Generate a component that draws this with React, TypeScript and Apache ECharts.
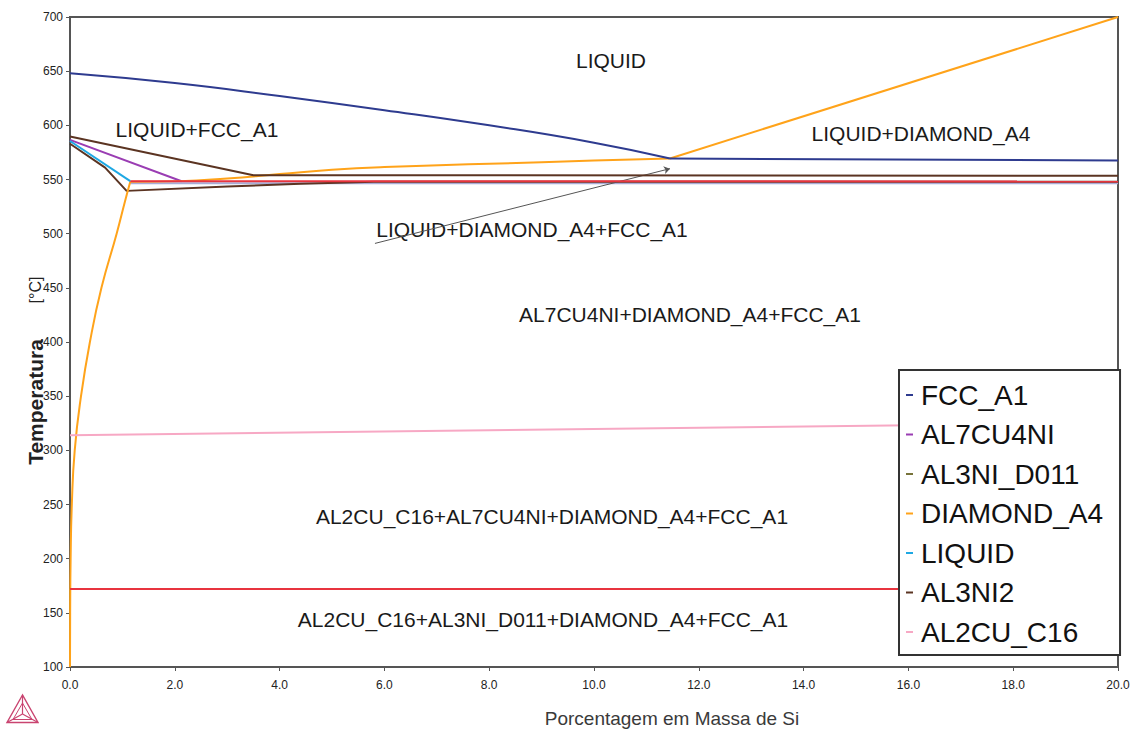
import React, { useEffect, useRef } from "react";
import * as echarts from "echarts";

// Phase boundary lines, [wt% Si, temperature °C]
const fccA1Liquidus = [[0, 648], [2, 639], [4, 627], [6, 614], [8, 600], [10, 584], [11.45, 569.4]];
const fccA1Plateau = [[11.45, 569.4], [20, 567.5]];
const fccA1Lower = [[1.15, 546.6], [20, 546.6]];
const al7cu4ni = [[0, 586.6], [2.13, 548.4]];
const al3niD011 = [[0, 100], [0, 172]];
const diamondA4Solvus = [
  [0, 100], [0.003, 150], [0.012, 200], [0.035, 250], [0.09, 300], [0.21, 350], [0.38, 400],
  [0.6, 450], [0.89, 500], [1.05, 530], [1.15, 548],
];
const diamondA4Mid = [[1.15, 548], [2.1, 548.5], [3, 551], [4, 555], [5, 559], [6, 561.5], [8, 564.5], [10, 567.5], [11.45, 569.4]];
const diamondA4Liquidus = [[11.45, 569.4], [20, 700]];
const liquid = [[0, 585.5], [1.15, 548.5]];
const al3ni2Upper = [[0, 589.7], [3.5, 554], [20, 553.4]];
const al3ni2Lower = [[0, 583], [0.67, 561], [1.08, 539.5], [3, 543.5], [4.4, 546], [5.8, 548], [20, 548]];
const al2cuC16 = [[0, 314], [20, 325.5]];
const eutecticHigh = [[1.15, 548.5], [20, 548.2]];
const eutecticLow = [[0, 172], [20, 172]];
const arrowFrom = [5.82, 491];
const arrowTo = [11.45, 560];

const legendNames = ["FCC_A1", "AL7CU4NI", "AL3NI_D011", "DIAMOND_A4", "LIQUID", "AL3NI2", "AL2CU_C16"];

const regionLabels = [
  { text: "LIQUID", x: 611, y: 60 },
  { text: "LIQUID+FCC_A1", x: 197, y: 129 },
  { text: "LIQUID+DIAMOND_A4", x: 921, y: 133 },
  { text: "LIQUID+DIAMOND_A4+FCC_A1", x: 532, y: 229 },
  { text: "AL7CU4NI+DIAMOND_A4+FCC_A1", x: 690, y: 314 },
  { text: "AL2CU_C16+AL7CU4NI+DIAMOND_A4+FCC_A1", x: 552, y: 516 },
  { text: "AL2CU_C16+AL3NI_D011+DIAMOND_A4+FCC_A1", x: 543, y: 619 },
];

const FONT = "'Liberation Sans', Arial, sans-serif";

function lineSeries(name: string, data: number[][], color: string, z = 2, width = 2, smooth = false) {
  return {
    type: "line",
    name,
    data,
    showSymbol: false,
    symbol: "none",
    silent: true,
    smooth,
    z,
    lineStyle: { color, width },
    itemStyle: { color },
  };
}

export default function App() {
  const ref = useRef<HTMLDivElement>(null);

  useEffect(() => {
    document.body.style.margin = "0";
    const chart = echarts.init(ref.current!, null, { renderer: "svg" });
    const logoColor = "#c94470";
    const orange = "#ffa31a";
    const navy = "#2e3b8f";
    const brown = "#5b3422";
    const red = "#e8343f";
    chart.setOption({
      animation: false,
      backgroundColor: "#ffffff",
      grid: {
        left: 70,
        right: 19,
        top: 17,
        bottom: 62,
        show: true,
        borderColor: "#555",
        borderWidth: 2,
        backgroundColor: "transparent",
      },
      legend: {
        data: legendNames,
        orient: "vertical",
        left: 899,
        top: 370,
        z: 20,
        backgroundColor: "#ffffff",
        borderColor: "#333",
        borderWidth: 2,
        padding: [10, 17, 8, 7],
        itemGap: 9.5,
        itemWidth: 7,
        itemHeight: 2,
        icon: "rect",
        selectedMode: false,
        textStyle: { fontFamily: FONT, fontSize: 28, color: "#111", lineHeight: 30, padding: [0, 0, 0, 3] },
      },
      xAxis: {
        type: "value",
        min: 0,
        max: 20,
        interval: 2,
        axisLine: { lineStyle: { color: "#555", width: 2 } },
        axisTick: { show: true, length: 4, lineStyle: { color: "#555" } },
        axisLabel: {
          fontFamily: FONT,
          fontSize: 12,
          color: "#222",
          margin: 12,
          formatter: (v: number) => v.toFixed(1),
        },
        splitLine: { show: false },
      },
      yAxis: {
        type: "value",
        min: 100,
        max: 700,
        interval: 50,
        axisLine: { show: true, lineStyle: { color: "#555", width: 2 } },
        axisTick: { show: true, length: 4, lineStyle: { color: "#555" } },
        axisLabel: { fontFamily: FONT, fontSize: 12, color: "#222", margin: 7 },
        splitLine: { show: false },
      },
      graphic: [
        ...regionLabels.map((l) => ({
          type: "text",
          x: l.x,
          y: l.y,
          silent: true,
          style: {
            text: l.text,
            fontFamily: FONT,
            fontSize: 21,
            fill: "#1a1a1a",
            textAlign: "center",
            textVerticalAlign: "middle",
          },
        })),
        {
          type: "text",
          x: 672,
          y: 718,
          style: {
            text: "Porcentagem em Massa de Si",
            fontFamily: FONT,
            fontSize: 19,
            fill: "#3a3a3a",
            textAlign: "center",
            textVerticalAlign: "middle",
          },
        },
        {
          type: "text",
          x: 35,
          y: 402,
          rotation: Math.PI / 2,
          style: {
            text: "Temperatura",
            fontFamily: FONT,
            fontSize: 21,
            fontWeight: "bold",
            fill: "#222",
            textAlign: "center",
            textVerticalAlign: "middle",
          },
        },
        {
          type: "text",
          x: 35,
          y: 290,
          rotation: Math.PI / 2,
          style: {
            text: "[°C]",
            fontFamily: FONT,
            fontSize: 16,
            fill: "#222",
            textAlign: "center",
            textVerticalAlign: "middle",
          },
        },
        {
          type: "group",
          silent: true,
          children: [
            { type: "polygon", shape: { points: [[22.5, 695], [7, 722.5], [38, 722.5]] }, style: { fill: "none", stroke: logoColor, lineWidth: 1.4 } },
            { type: "polygon", shape: { points: [[22.5, 703], [13, 719.5], [32, 719.5]] }, style: { fill: "none", stroke: logoColor, lineWidth: 1 } },
            { type: "line", shape: { x1: 22.5, y1: 695, x2: 22.5, y2: 714 }, style: { stroke: logoColor, lineWidth: 1.2 } },
            { type: "line", shape: { x1: 7, y1: 722.5, x2: 22.5, y2: 714 }, style: { stroke: logoColor, lineWidth: 1.2 } },
            { type: "line", shape: { x1: 38, y1: 722.5, x2: 22.5, y2: 714 }, style: { stroke: logoColor, lineWidth: 1.2 } },
          ],
        },
      ],
      series: [
        lineSeries("fcc-lower", fccA1Lower, "#a7add8", 1, 2),
        lineSeries("AL3NI2", al3ni2Lower, brown, 2),
        lineSeries("AL7CU4NI", al7cu4ni, "#9a3db3", 3),
        lineSeries("AL3NI_D011", al3niD011, "#77733a", 3),
        lineSeries("DIAMOND_A4", diamondA4Solvus, orange, 4, 2, true),
        lineSeries("DIAMOND_A4", diamondA4Mid, orange, 4, 2, true),
        lineSeries("DIAMOND_A4", diamondA4Liquidus, orange, 4),
        lineSeries("eutectic-high", eutecticHigh, red, 5),
        lineSeries("AL3NI2", al3ni2Upper, brown, 5),
        lineSeries("FCC_A1", fccA1Liquidus, navy, 6, 2, true),
        lineSeries("FCC_A1", fccA1Plateau, navy, 6),
        lineSeries("LIQUID", liquid, "#1ea8e3", 6),
        lineSeries("AL2CU_C16", al2cuC16, "#f7a8c4", 6),
        {
          ...lineSeries("eutectic-low", eutecticLow, red, 6),
          markLine: {
            silent: true,
            symbol: ["none", "arrow"],
            symbolSize: 6,
            label: { show: false },
            lineStyle: { color: "#555", width: 1, type: "solid" },
            data: [[{ coord: arrowFrom }, { coord: arrowTo }]],
          },
        },
      ],
    });
    return () => chart.dispose();
  }, []);

  return <div ref={ref} style={{ position: "absolute", left: 0, top: 0, width: 1137, height: 729 }} />;
}
